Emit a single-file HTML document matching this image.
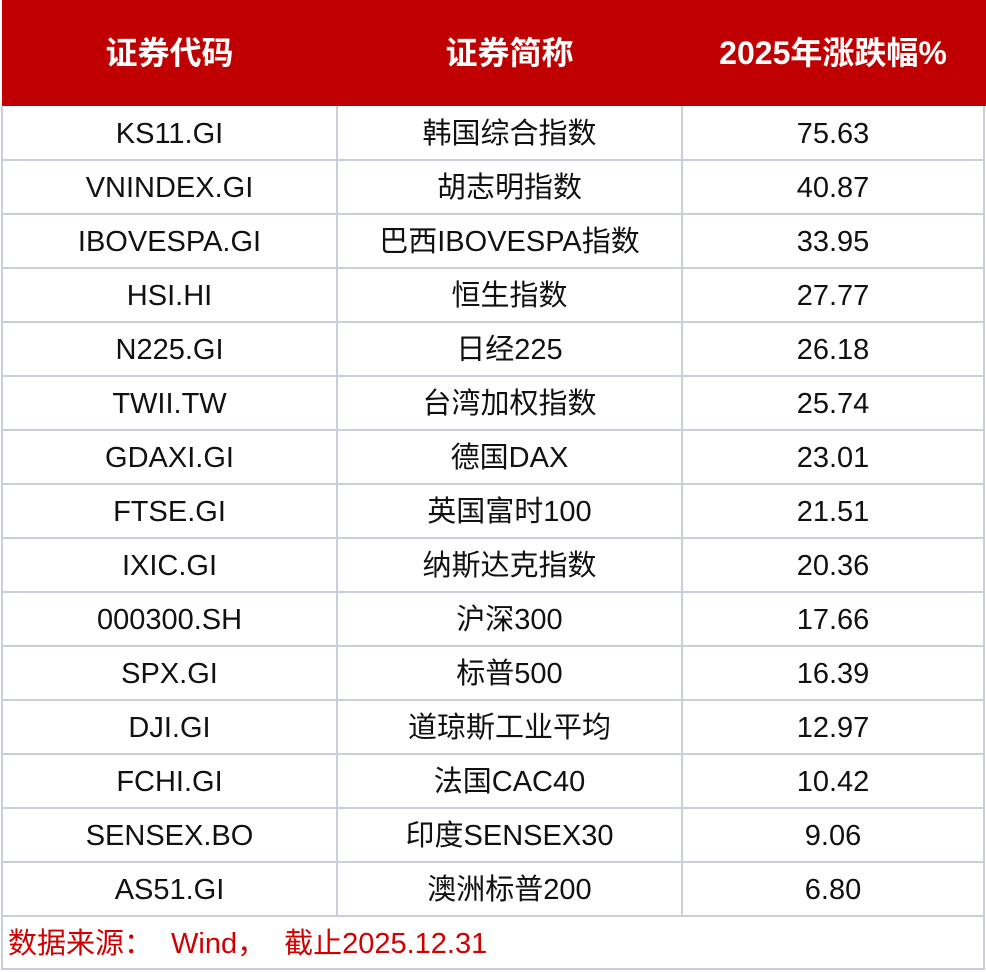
<!DOCTYPE html>
<html><head><meta charset="utf-8"><style>
body{margin:0;width:986px;height:971px;background:#fff;position:relative;overflow:hidden;font-family:"Liberation Sans","Noto Sans CJK SC",sans-serif;}
.hdr{position:absolute;left:2px;top:0;width:984px;height:106px;background:#c00000;}
.h{position:absolute;top:0;height:106px;line-height:106px;color:#fff;font-size:32px;font-weight:bold;text-align:center;}
.hl{position:absolute;background:#c9ced8;height:2px;left:2px;width:982px;}
.vl{position:absolute;background:#c9ced8;width:2px;}
.c{position:absolute;height:54px;line-height:56px;font-size:29px;color:#111;text-align:center;}
.ft{position:absolute;left:8px;top:916px;height:54px;line-height:56px;color:#d00000;font-size:29px;white-space:nowrap;}
.fw{display:inline-block;width:47px;}
</style></head><body>
<div class="hdr"></div>
<div class="h" style="left:2px;width:335px">证券代码</div>
<div class="h" style="left:337px;width:345px">证券简称</div>
<div class="h" style="left:682px;width:302px">2025年涨跌幅%</div>
<div class="vl" style="left:1px;top:106px;height:864px"></div>
<div class="vl" style="left:983px;top:106px;height:864px"></div>
<div class="vl" style="left:336px;top:106px;height:810px"></div>
<div class="vl" style="left:681px;top:106px;height:810px"></div>
<div class="hl" style="top:968px"></div>
<div id="rows"></div>
<div class="ft">数据来源<span class="fw">：</span>Wind<span class="fw">，</span>截止2025.12.31</div>
<script>
var d=[["KS11.GI","韩国综合指数","75.63"],["VNINDEX.GI","胡志明指数","40.87"],["IBOVESPA.GI","巴西IBOVESPA指数","33.95"],["HSI.HI","恒生指数","27.77"],["N225.GI","日经225","26.18"],["TWII.TW","台湾加权指数","25.74"],["GDAXI.GI","德国DAX","23.01"],["FTSE.GI","英国富时100","21.51"],["IXIC.GI","纳斯达克指数","20.36"],["000300.SH","沪深300","17.66"],["SPX.GI","标普500","16.39"],["DJI.GI","道琼斯工业平均","12.97"],["FCHI.GI","法国CAC40","10.42"],["SENSEX.BO","印度SENSEX30","9.06"],["AS51.GI","澳洲标普200","6.80"]];
var h="";
for(var i=0;i<d.length;i++){var t=106+i*54;
h+='<div class="c" style="left:2px;width:335px;top:'+t+'px">'+d[i][0]+'</div>';
h+='<div class="c" style="left:337px;width:345px;top:'+t+'px">'+d[i][1]+'</div>';
h+='<div class="c" style="left:682px;width:302px;top:'+t+'px">'+d[i][2]+'</div>';
h+='<div class="hl" style="top:'+(t+53)+'px"></div>';}
document.getElementById("rows").innerHTML=h;
</script>
</body></html>
